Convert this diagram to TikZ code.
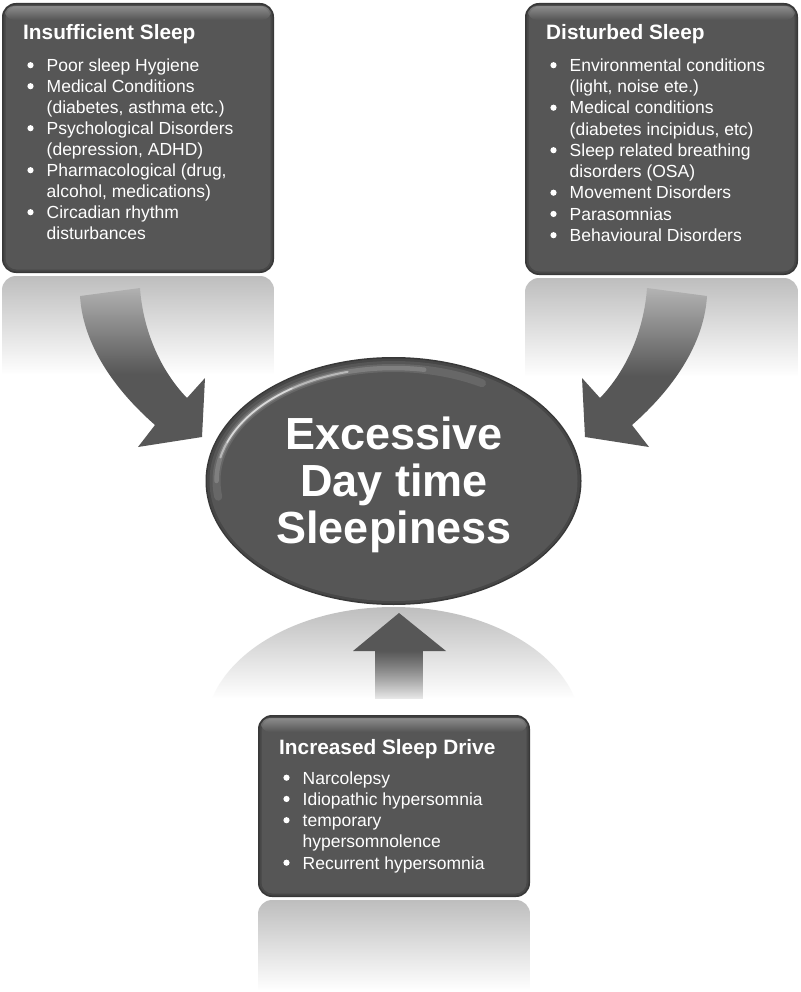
\documentclass[tikz,border=0pt]{standalone}
\usepackage{fontspec}
\setmainfont{Liberation Sans}
\usetikzlibrary{fadings}
\definecolor{boxfill}{HTML}{565656}
\definecolor{boxrim}{HTML}{383838}
\definecolor{boxmid}{HTML}{474747}
\definecolor{refl}{HTML}{BEBEBE}
\definecolor{arrowfill}{HTML}{575757}
\tikzfading[name=fadedown, top color=transparent!0, bottom color=transparent!100]
\tikzfading[name=shaftfade, top color=transparent!0, bottom color=transparent!88]
\tikzset{
  titletext/.style={text=white, font=\fontsize{20.8}{24}\selectfont\bfseries, anchor=base west, inner sep=0pt},
  itemtext/.style={text=white, font=\fontsize{17.5}{21}\selectfont, anchor=base west, inner sep=0pt},
  bigtext/.style={text=white, font=\fontsize{45}{48}\selectfont\bfseries, anchor=base, inner sep=0pt},
  glint/.style={white, line cap=round},
}
\newcommand\bevelbox[4]{%
  \fill[boxrim, rounded corners=14pt] (#1,#2) rectangle (#3,#4);
  \fill[boxmid, rounded corners=13pt] (#1+1.5,#2+1.5) rectangle (#3-1.5,#4-1.5);
  \fill[boxfill, rounded corners=11pt] (#1+3.5,#2+3.5) rectangle (#3-3.5,#4-3.5);
  \fill[white, opacity=0.32, path fading=fadedown, rounded corners=9pt] (#1+3,#2+3) rectangle (#3-3,#2+17);
}
\newcommand\reflbox[4]{%
  \begin{scope}
    \clip[rounded corners=14pt] (#1,#2) rectangle (#3,#4+40);
    \fill[refl, path fading=fadedown] (#1,#2) rectangle (#3,#4);
  \end{scope}}
\newcommand\boxlines[5]{%
  \foreach \bul/\txt [count=\i] in {#5} {
    \node[itemtext, name=#1\i] at (#2+44.5, #3+#4*\i-#4) {\txt};
    \ifnum\bul=1 \fill[white] (#2+28.5, #3+#4*\i-#4-6.3) circle (3.1pt); \fi
  }}
\begin{document}
\begin{tikzpicture}[x=1pt, y=-1pt]
\useasboundingbox (0,0) rectangle (800,992);
\fill[white] (0,0) rectangle (800,992);

% curved arrows (drawn under the reflections)
\fill[arrowfill] (80,296) .. controls (83,345) and (115,390) .. (155,425) -- (138,447) -- (202,437) -- (205,378) -- (187,398) .. controls (160,370) and (143,330) .. (140,288) -- cycle;
\begin{scope}[xshift=787pt, xscale=-1]
\fill[arrowfill] (80,296) .. controls (83,345) and (115,390) .. (155,425) -- (138,447) -- (202,437) -- (205,378) -- (187,398) .. controls (160,370) and (143,330) .. (140,288) -- cycle;
\end{scope}

% reflections
\reflbox{2}{276}{274}{374}
\reflbox{525}{278}{798}{376}
\reflbox{258}{900}{530}{990}
\begin{scope}
  \clip (393.5,731) ellipse [x radius=188, y radius=124];
  \fill[refl, path fading=fadedown] (200,607) rectangle (590,698);
\end{scope}

% up arrow
\fill[arrowfill] (399,613) -- (446,651) -- (353,651) -- cycle;
\fill[arrowfill, path fading=shaftfade] (375,650.5) rectangle (423,699);

% boxes
\bevelbox{2}{3}{274}{273}
\bevelbox{525}{3}{798}{275}
\bevelbox{258}{715}{530}{897}

% central ellipse
\fill[boxrim] (393.5,481) ellipse [x radius=188, y radius=124];
\fill[boxmid] (393.5,481) ellipse [x radius=186.5, y radius=122.5];
\fill[boxfill] (393.5,481) ellipse [x radius=184, y radius=120];
\draw[glint, opacity=0.10, line width=8pt] plot[smooth, domain=172:300, samples=60] ({393.5+177*cos(\x)}, {481+113*sin(\x)});
\draw[glint, opacity=0.16, line width=4.5pt] plot[smooth, domain=180:280, samples=60] ({393.5+177*cos(\x)}, {481+113*sin(\x)});
\draw[glint, opacity=0.45, line width=2pt] plot[smooth, domain=192:255, samples=50] ({393.5+177*cos(\x)}, {481+113*sin(\x)});
\draw[glint, opacity=0.5, line width=1.4pt] plot[smooth, domain=200:235, samples=30] ({393.5+177*cos(\x)}, {481+113*sin(\x)});

% texts
\node[bigtext] (e1) at (394,449) {Excessive};
\node[bigtext] (e2) at (394,496) {Day time};
\node[bigtext] (e3) at (394,543) {Sleepiness};

\node[titletext] (tL) at (23,40) {Insufficient Sleep};
\node[titletext] (tR) at (546,40) {Disturbed Sleep};
\node[titletext] (tB) at (279,754) {Increased Sleep Drive};

\boxlines{L}{2}{71.5}{21}{1/Poor sleep Hygiene, 1/Medical Conditions, 0/{(diabetes, asthma etc.)}, 1/Psychological Disorders, 0/{(depression, ADHD)}, 1/{Pharmacological (drug,}, 0/{alcohol, medications)}, 1/Circadian rhythm, 0/disturbances}
\boxlines{R}{525}{71.5}{21.25}{1/Environmental conditions, 0/{(light, noise ete.)}, 1/Medical conditions, 0/{(diabetes incipidus, etc)}, 1/Sleep related breathing, 0/disorders (OSA), 1/Movement Disorders, 1/Parasomnias, 1/Behavioural Disorders}
\boxlines{B}{258}{784}{21.25}{1/Narcolepsy, 1/Idiopathic hypersomnia, 1/temporary, 0/hypersomnolence, 1/Recurrent hypersomnia}
\end{tikzpicture}
\end{document}
